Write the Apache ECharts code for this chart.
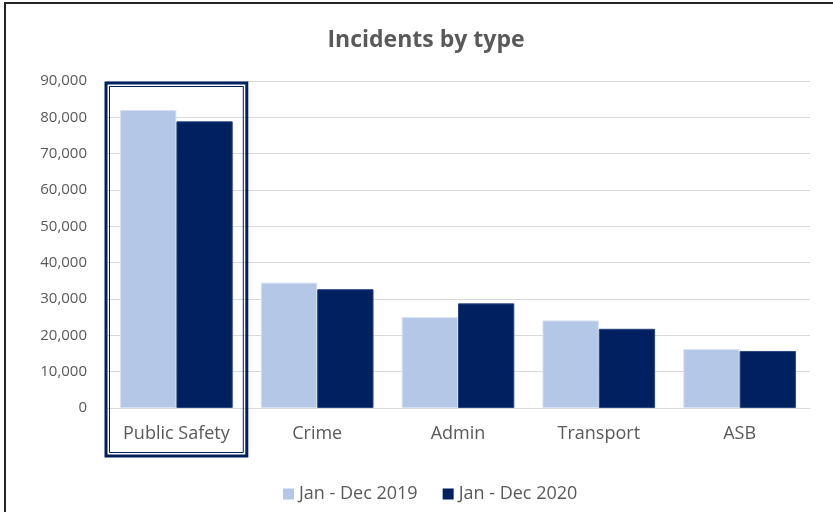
<!DOCTYPE html>
<html>
<head>
<meta charset="utf-8">
<script src="https://cdn.jsdelivr.net/npm/echarts@6/dist/echarts.min.js"></script>
<style>
html,body{margin:0;padding:0;background:#fff;}
#wrap{position:relative;width:833px;height:512px;overflow:hidden;}
#frame{position:absolute;left:4px;top:2px;width:840px;height:520px;border-left:2px solid #262626;border-top:2px solid #262626;pointer-events:none;}
#chart{position:absolute;left:0;top:0;width:833px;height:512px;}
</style>
</head>
<body>
<div id="wrap">
<div id="chart"></div>
<div id="frame"></div>
</div>
<script>
const categories = ['Public Safety', 'Crime', 'Admin', 'Transport', 'ASB'];
const series2019 = [82000, 34500, 25000, 24100, 16200];
const series2020 = [78900, 32700, 28800, 21800, 15700];
const seriesNames = ['Jan - Dec 2019', 'Jan - Dec 2020'];
const highlightCategory = 'Public Safety';

const chart = echarts.init(document.getElementById('chart'), null, {renderer: 'canvas'});
const font = 'Open Sans';
chart.setOption({
  animation: false,
  backgroundColor: '#fff',
  title: {
    text: 'Incidents by type',
    left: 421,
    textAlign: 'center',
    top: 24,
    textStyle: {fontFamily: font, fontSize: 23, fontWeight: 'bold', color: '#595959'}
  },
  legend: {
    bottom: 4,
    left: 278,
    itemWidth: 11,
    itemHeight: 11,
    itemGap: 25,
    icon: 'rect',
    itemStyle: {borderWidth: 0},
    textStyle: {fontFamily: font, fontSize: 18, color: '#595959'},
    data: seriesNames
  },
  grid: {left: 106, right: 23, top: 81, bottom: 104, containLabel: false},
  xAxis: {
    type: 'category',
    data: categories,
    axisLine: {show: true, lineStyle: {color: '#d9d9d9', width: 1}},
    axisTick: {show: false},
    axisLabel: {fontFamily: font, fontSize: 18, color: '#595959', margin: 17}
  },
  yAxis: {
    type: 'value',
    min: 0,
    max: 90000,
    interval: 10000,
    axisLine: {show: false},
    axisTick: {show: false},
    splitLine: {lineStyle: {color: '#d9d9d9', width: 1}},
    axisLabel: {
      fontFamily: font, fontSize: 15, color: '#595959', margin: 19,
      formatter: v => v.toLocaleString('en-US')
    }
  },
  series: [
    {name: seriesNames[0], type: 'bar', data: series2019, barGap: '0%', barCategoryGap: '20%',
     itemStyle: {color: '#b4c7e7', borderColor: '#d5e0f2', borderWidth: 1}},
    {name: seriesNames[1], type: 'bar', data: series2020, barGap: '0%', barCategoryGap: '20%',
     itemStyle: {color: '#002060', borderColor: '#2a4680', borderWidth: 1}}
  ]
});

// Highlight box around the selected category, derived from the axis scales
const idx = categories.indexOf(highlightCategory);
const c0 = chart.convertToPixel({xAxisIndex: 0}, 0);
const c1 = chart.convertToPixel({xAxisIndex: 0}, 1);
const band = c1 - c0;
const cx = chart.convertToPixel({xAxisIndex: 0}, idx);
const yTop = chart.convertToPixel({yAxisIndex: 0}, 90000);
const yZero = chart.convertToPixel({yAxisIndex: 0}, 0);
const x0 = cx - band / 2, x1 = cx + band / 2;
const y0 = yTop + 2, y1 = yZero + 48;
chart.setOption({
  graphic: [
    {type: 'rect', z: 100, silent: true,
     shape: {x: x0, y: y0, width: x1 - x0, height: y1 - y0},
     style: {fill: null, stroke: '#002060', lineWidth: 3}},
    {type: 'rect', z: 100, silent: true,
     shape: {x: x0 + 3.5, y: y0 + 3.5, width: x1 - x0 - 7, height: y1 - y0 - 7},
     style: {fill: null, stroke: '#002060', lineWidth: 1}}
  ]
});
</script>
</body>
</html>
